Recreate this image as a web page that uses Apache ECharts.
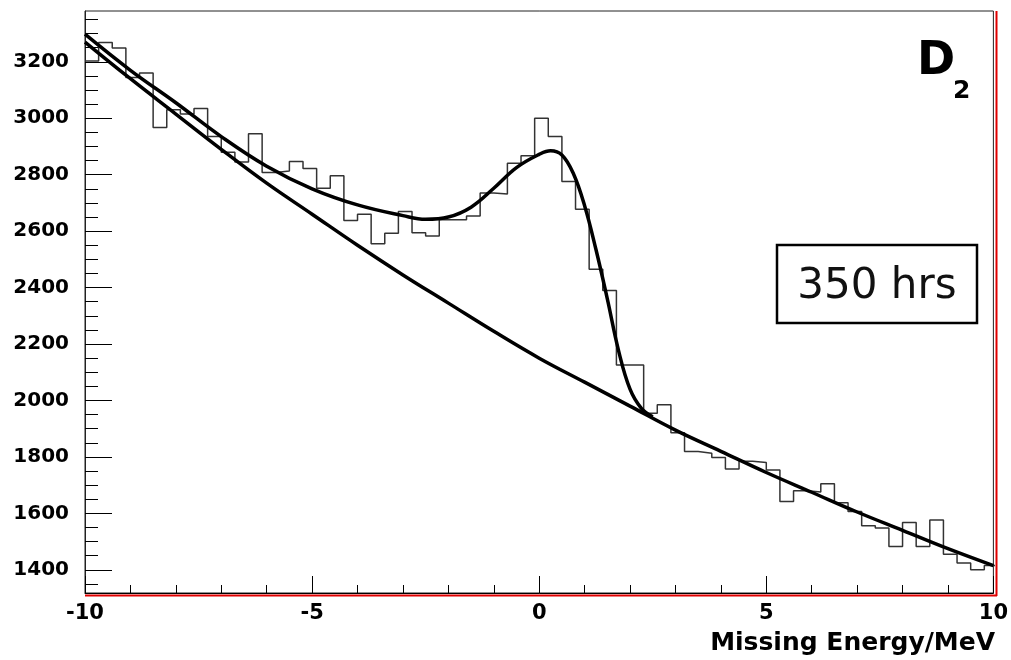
<!DOCTYPE html>
<html>
<head>
<meta charset="utf-8">
<script src="https://cdn.jsdelivr.net/npm/echarts@6/dist/echarts.min.js"></script>
<style>
  html, body { margin: 0; padding: 0; background: #fff; }
  #chart { width: 1011px; height: 660px; }
</style>
</head>
<body>
<div id="chart"></div>
<script>
// Missing-energy histogram for D2 (0.3 MeV bins starting at -10 MeV)
const BIN_START = -10;
const BIN_WIDTH = 0.3;
const counts = [
  3203, 3268, 3249, 3144, 3160, 2967, 3030, 3015, 3035, 2935,
  2880, 2845, 2945, 2808, 2813, 2847, 2822, 2752, 2796, 2638,
  2660, 2555, 2593, 2670, 2594, 2583, 2640, 2640, 2654, 2735,
  2732, 2841, 2867, 3000, 2935, 2776, 2678, 2465, 2390, 2126,
  2126, 1955, 1985, 1886, 1819, 1813, 1798, 1757, 1785, 1780,
  1754, 1642, 1680, 1676, 1705, 1638, 1607, 1556, 1548, 1483,
  1568, 1483, 1577, 1455, 1424, 1400, 1415
];

// Background fit
const bgX = [-10, -9, -8, -7, -6, -5, -4, -3, -2, -1, 0, 1, 2, 3, 4, 5, 6, 7, 8, 9, 10];
const bgY = [3270, 3140, 3015, 2890, 2770, 2660, 2550, 2445, 2345, 2245, 2150,
             2065, 1980, 1895, 1820, 1745, 1675, 1605, 1540, 1475, 1415];

// Background + peak fit
const totX = [-10, -9, -8, -7, -6, -5, -4, -3, -2.5, -2, -1.5, -1, -0.5, 0, 0.25,
              0.5, 0.75, 1, 1.25, 1.5, 1.75, 2, 2.25, 2.5];
const totY = [3298, 3170, 3055, 2935, 2830, 2750, 2693, 2655, 2642, 2650, 2685, 2752,
              2825, 2872, 2885, 2870, 2805, 2690, 2535, 2360, 2175, 2040, 1972, 1942];

// Axis ticks
const xMin = -10, xMax = 10, xStep = 5;
const yMin = 1318, yMax = 3380;
const yMajorTicks = [1400, 1600, 1800, 2000, 2200, 2400, 2600, 2800, 3000, 3200];
const yMinorTicks = [];
for (let v = 1350; v <= 3350; v += 50) yMinorTicks.push(v);

const histData = counts.map((c, i) => [BIN_START + i * BIN_WIDTH, c]);
histData.push([BIN_START + counts.length * BIN_WIDTH, counts[counts.length - 1]]);

const FONT = 'DejaVu Sans';
const chart = echarts.init(document.getElementById('chart'), null, { renderer: 'canvas' });

chart.setOption({
  animation: false,
  backgroundColor: '#fff',
  grid: {
    left: 85, right: 16, top: 11, bottom: 67,
    show: true, borderColor: '#222', borderWidth: 1, backgroundColor: 'transparent'
  },
  xAxis: {
    type: 'value', min: xMin, max: xMax, interval: xStep,
    axisLine: { show: true, onZero: false, lineStyle: { color: '#000', width: 1 } },
    axisTick: { show: true, inside: true, length: 17, lineStyle: { color: '#000', width: 1 } },
    minorTick: { show: true, splitNumber: 5, length: 8, lineStyle: { color: '#000', width: 1 } },
    splitLine: { show: false },
    axisLabel: {
      margin: 10, color: '#000', fontFamily: FONT, fontWeight: 'bold', fontSize: 21,
      showMinLabel: true, showMaxLabel: true,
      formatter: v => String(v)
    }
  },
  yAxis: [
    {
      type: 'value', min: yMin, max: yMax, position: 'left',
      axisLine: { show: true, onZero: false, lineStyle: { color: '#222', width: 1 } },
      axisTick: { show: true, inside: true, length: 27, customValues: yMajorTicks,
                  lineStyle: { color: '#000', width: 1 } },
      splitLine: { show: false },
      axisLabel: { margin: 16, color: '#000', fontFamily: FONT, fontWeight: 'bold', fontSize: 20,
                   customValues: yMajorTicks, formatter: v => String(v) }
    },
    {
      type: 'value', min: yMin, max: yMax, position: 'left', offset: 0,
      axisLine: { show: false, onZero: false },
      axisTick: { show: true, inside: true, length: 13, customValues: yMinorTicks,
                  lineStyle: { color: '#000', width: 1 } },
      splitLine: { show: false },
      axisLabel: { show: false }
    }
  ],
  series: [
    {
      name: 'data', type: 'line', step: 'end', data: histData,
      showSymbol: false, clip: true, z: 2,
      lineStyle: { color: '#333', width: 1.5 }
    },
    {
      name: 'background', type: 'line', smooth: 0.4,
      data: bgX.map((x, i) => [x, bgY[i]]),
      showSymbol: false, clip: true, z: 3,
      lineStyle: { color: '#000', width: 3.5 }
    },
    {
      name: 'total', type: 'line', smooth: 0.4,
      data: totX.map((x, i) => [x, totY[i]]),
      showSymbol: false, clip: true, z: 3,
      lineStyle: { color: '#000', width: 3.5 }
    }
  ],
  graphic: [
    // red frame edges on the right and bottom
    { type: 'line', z: 10, shape: { x1: 85, y1: 595.5, x2: 997, y2: 595.5 },
      style: { stroke: '#e00000', lineWidth: 2 } },
    { type: 'line', z: 10, shape: { x1: 996.5, y1: 11, x2: 996.5, y2: 596 },
      style: { stroke: '#e00000', lineWidth: 2 } },
    // target label
    { type: 'text', z: 10, x: 917, y: 62,
      style: { text: 'D', font: 'bold 46px ' + FONT, fill: '#000',
               textAlign: 'left', textVerticalAlign: 'middle' } },
    { type: 'text', z: 10, x: 953, y: 91,
      style: { text: '2', font: 'bold 25px ' + FONT, fill: '#000',
               textAlign: 'left', textVerticalAlign: 'middle' } },
    // beam-time box
    { type: 'rect', z: 10, shape: { x: 777, y: 245, width: 200, height: 78 },
      style: { fill: '#fff', stroke: '#000', lineWidth: 2.5 } },
    { type: 'text', z: 11, x: 877, y: 287,
      style: { text: '350 hrs', font: '42px ' + FONT, fill: '#111',
               textAlign: 'center', textVerticalAlign: 'middle' } },
    // axis title
    { type: 'text', z: 10, x: 995, y: 643,
      style: { text: 'Missing Energy/MeV', font: 'bold 25px ' + FONT, fill: '#000',
               textAlign: 'right', textVerticalAlign: 'middle' } }
  ]
});
</script>
</body>
</html>
